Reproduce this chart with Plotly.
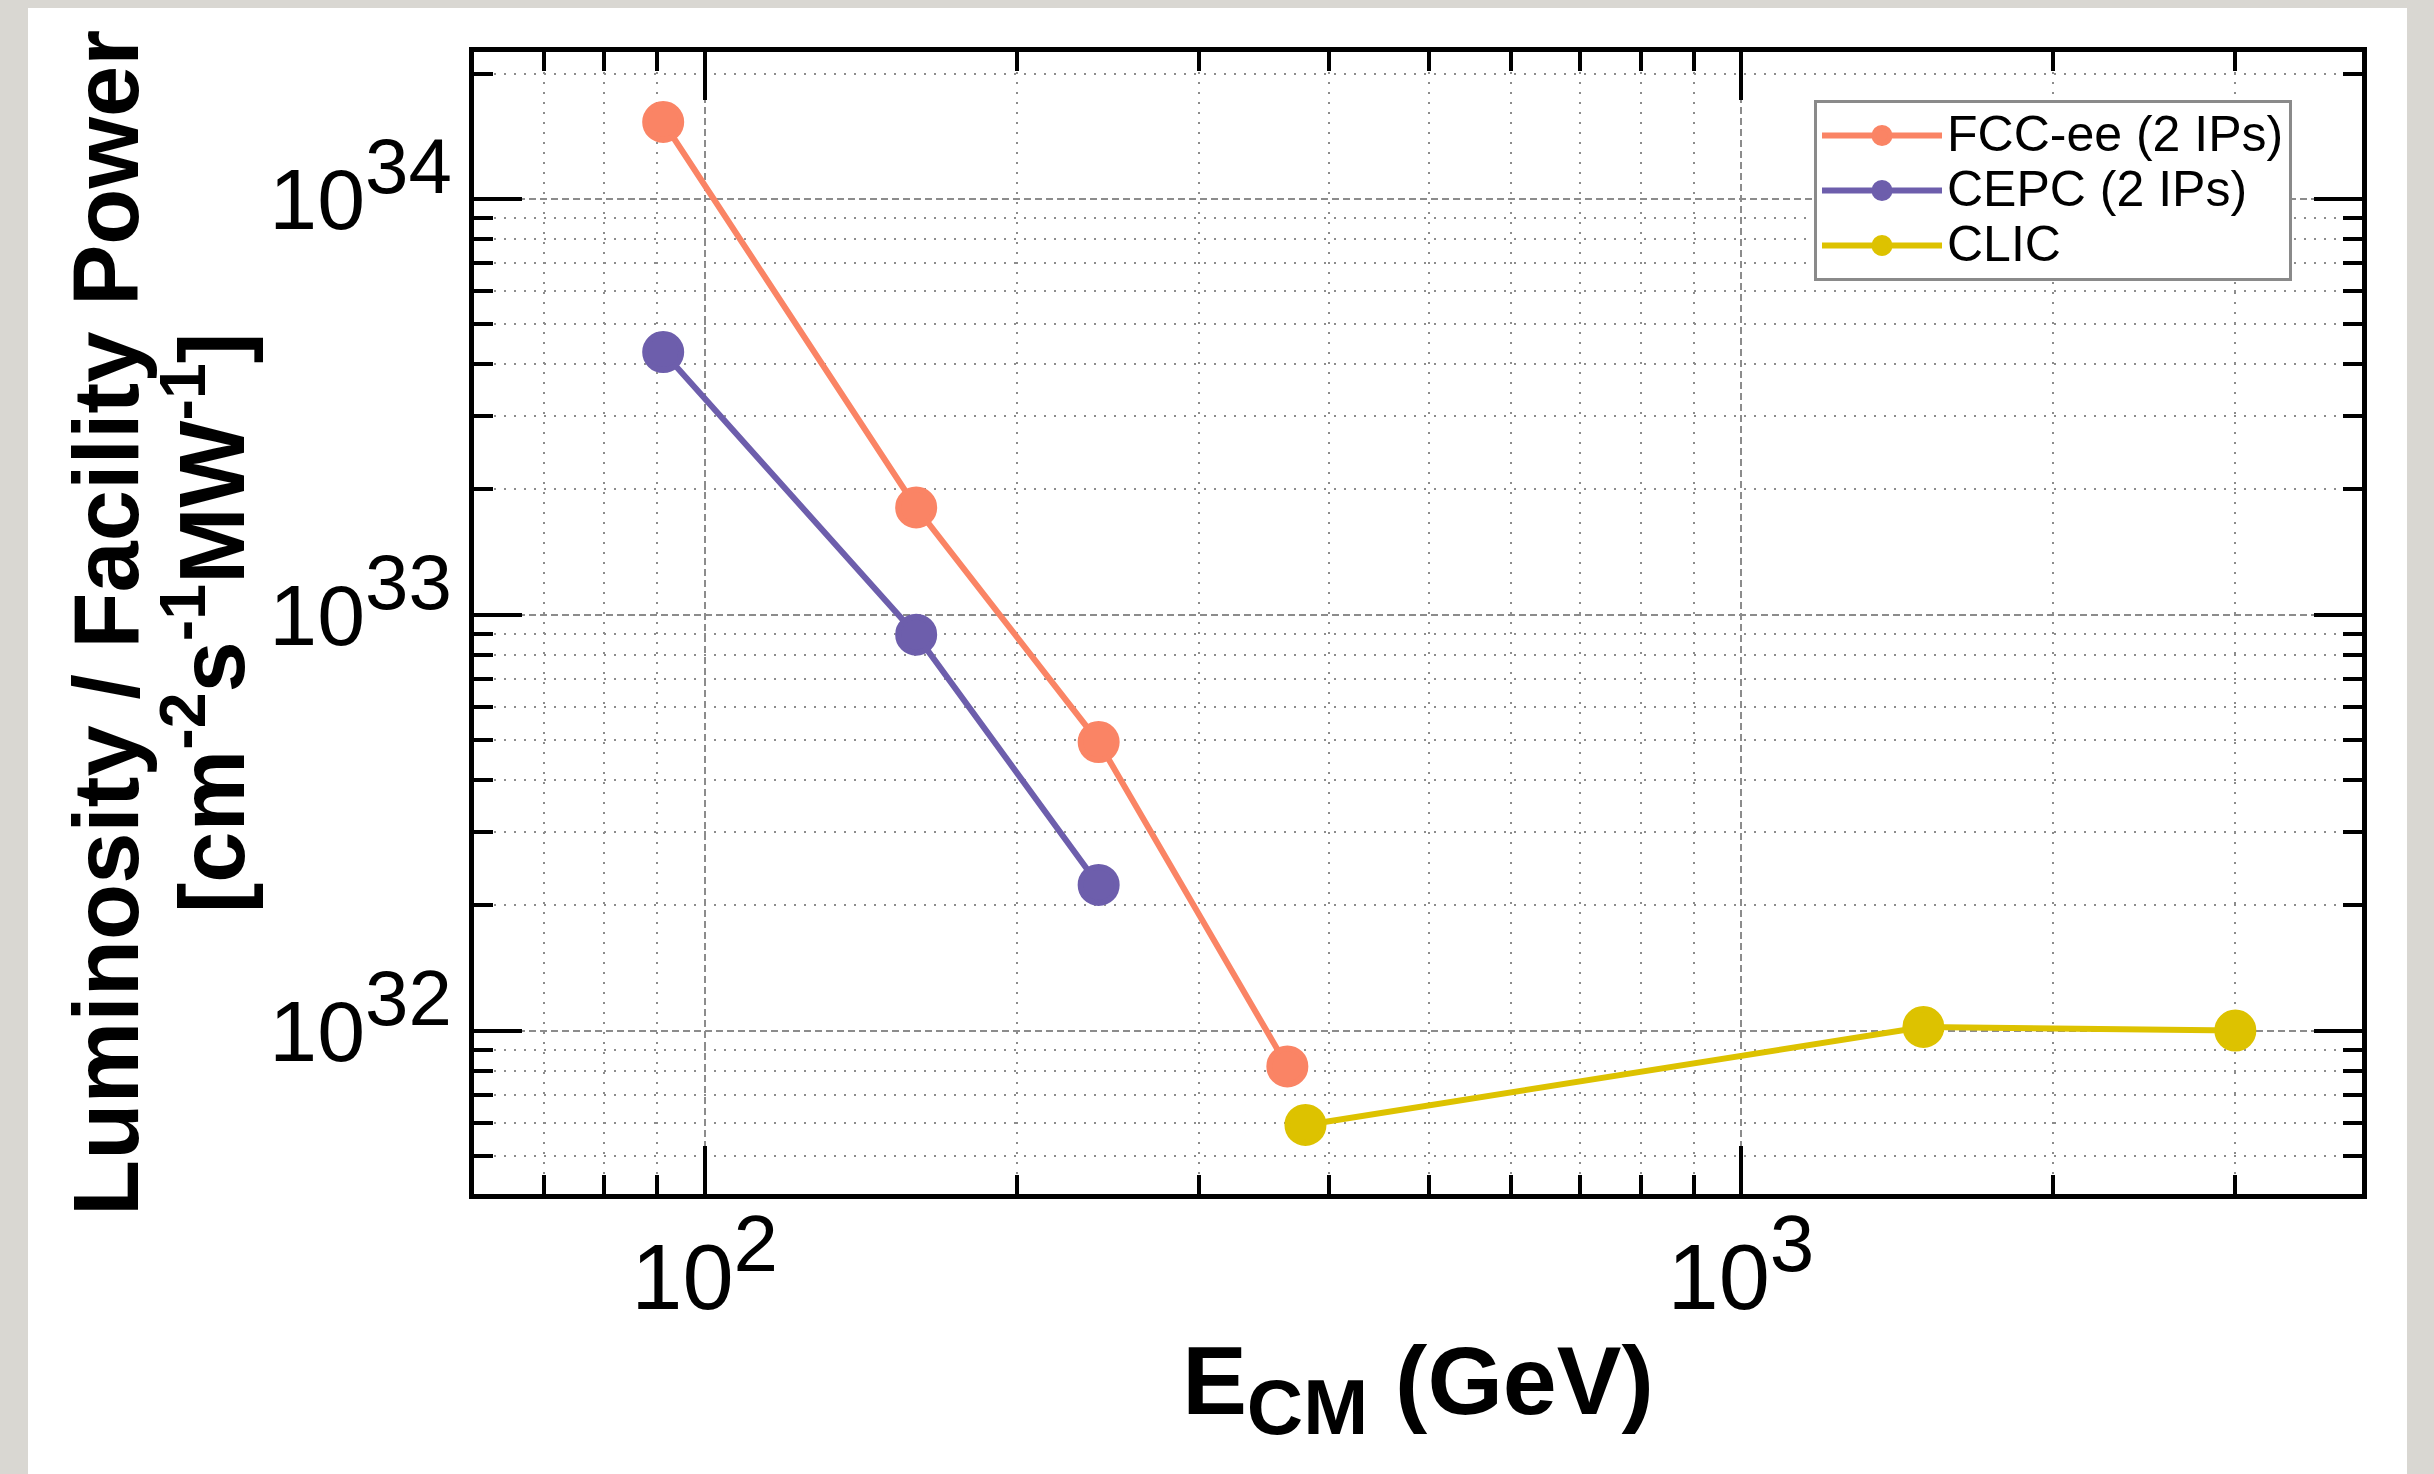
import math
import plotly.graph_objects as go

# ---- data ----
fcc_x = [91.2, 160, 240, 365]
fcc_y = [1.53e34, 1.81e33, 4.94e32, 8.2e31]
cepc_x = [91.2, 160, 240]
cepc_y = [4.28e33, 8.95e32, 2.24e32]
clic_x = [380, 1500, 3000]
clic_y = [5.93e31, 1.02e32, 1.0e32]

series_names = ["FCC-ee (2 IPs)", "CEPC (2 IPs)", "CLIC"]
series_colors = ["#FA8465", "#6D5EAC", "#DDC200"]

x_major = [100, 1000]
x_major_text = ['10<sup><span style="font-size:80px">2</span></sup>',
                '10<sup><span style="font-size:80px">3</span></sup>']
x_minor = [70, 80, 90, 200, 300, 400, 500, 600, 700, 800, 900, 2000, 3000]
y_major = [1e32, 1e33, 1e34]
y_major_text = ['10<sup><span style="font-size:78px">32</span></sup>',
                '10<sup><span style="font-size:78px">33</span></sup>',
                '10<sup><span style="font-size:78px">34</span></sup>']
y_minor = [5e31, 6e31, 7e31, 8e31, 9e31,
           2e32, 3e32, 4e32, 5e32, 6e32, 7e32, 8e32, 9e32,
           2e33, 3e33, 4e33, 5e33, 6e33, 7e33, 8e33, 9e33,
           2e34]

x_range = [math.log10(59.9), math.log10(3975)]
y_range = [31.607, 34.353]

FONT = "Liberation Sans, Arial, Helvetica, sans-serif"

fig = go.Figure()
for xs, ys, name, col in zip([fcc_x, cepc_x, clic_x], [fcc_y, cepc_y, clic_y],
                             series_names, series_colors):
    fig.add_trace(go.Scatter(
        x=xs, y=ys, name='<span style="font-size:50px">%s</span>' % name,
        mode="lines+markers",
        line=dict(color=col, width=6),
        marker=dict(color=col, size=36, line=dict(color=col, width=6)),
    ))

grid_major = dict(showgrid=True, gridcolor="#8c8c8c", gridwidth=2, griddash="7px,4px")
minor_common = dict(ticks="inside", ticklen=19, tickwidth=4, tickcolor="black",
                    showgrid=True, gridcolor="#8c8c8c", gridwidth=2, griddash="2px,8px")

fig.update_xaxes(
    type="log", range=x_range,
    tickmode="array", tickvals=x_major, ticktext=x_major_text,
    ticks="inside", ticklen=48, tickwidth=4, tickcolor="black",
    showline=True, linewidth=5, linecolor="black", mirror="ticks",
    tickfont=dict(family=FONT, size=92, color="black"),
    minor=dict(tickmode="array", tickvals=x_minor, **minor_common),
    title=dict(text='E<sub><span style="font-size:78px">CM</span></sub> (GeV)',
               font=dict(family=FONT, size=97, color="black", weight="bold"),
               standoff=20),
    zeroline=False, **grid_major,
)
y_title_lines = ["Luminosity / Facility Power",
                 "[cm<sup>-2</sup>s<sup>-1</sup>MW<sup>-1</sup>]"]
fig.update_yaxes(
    type="log", range=y_range,
    tickmode="array", tickvals=y_major, ticktext=y_major_text,
    ticks="inside", ticklen=48, tickwidth=4, tickcolor="black",
    showline=True, linewidth=5, linecolor="black", mirror="ticks",
    tickfont=dict(family=FONT, size=86, color="black"),
    minor=dict(tickmode="array", tickvals=y_minor, **minor_common),
    title=dict(text="<br>".join('<span style="font-size:92px">%s</span>' % s for s in y_title_lines),
               font=dict(family=FONT, size=81, color="black", weight="bold"),
               standoff=0),
    zeroline=False, **grid_major,
)

W, H = 2434, 1474
L, R, T, B = 474, 72, 52, 280
pw, ph = W - L - R, H - T - B

def px_to_paper_x(px):
    return (px - L) / pw

def px_to_paper_y(py):
    return (H - B - py) / ph

fig.update_layout(
    width=W, height=H,
    margin=dict(l=L, r=R, t=T, b=B, autoexpand=False),
    paper_bgcolor="#d9d7d2",
    plot_bgcolor="white",
    font=dict(family=FONT, color="black"),
    showlegend=True,
    legend=dict(
        x=px_to_paper_x(1814), y=px_to_paper_y(100), xanchor="left", yanchor="top",
        bgcolor="white", bordercolor="#8a8a8a", borderwidth=3,
        font=dict(family=FONT, size=40, color="black"),
        itemwidth=120, tracegroupgap=0,
    ),
    shapes=[dict(type="rect", xref="paper", yref="paper", layer="below",
                 x0=px_to_paper_x(28), x1=px_to_paper_x(2407),
                 y0=px_to_paper_y(1480), y1=px_to_paper_y(8),
                 fillcolor="white", line=dict(width=0))],
)

fig.write_html("out.html")
